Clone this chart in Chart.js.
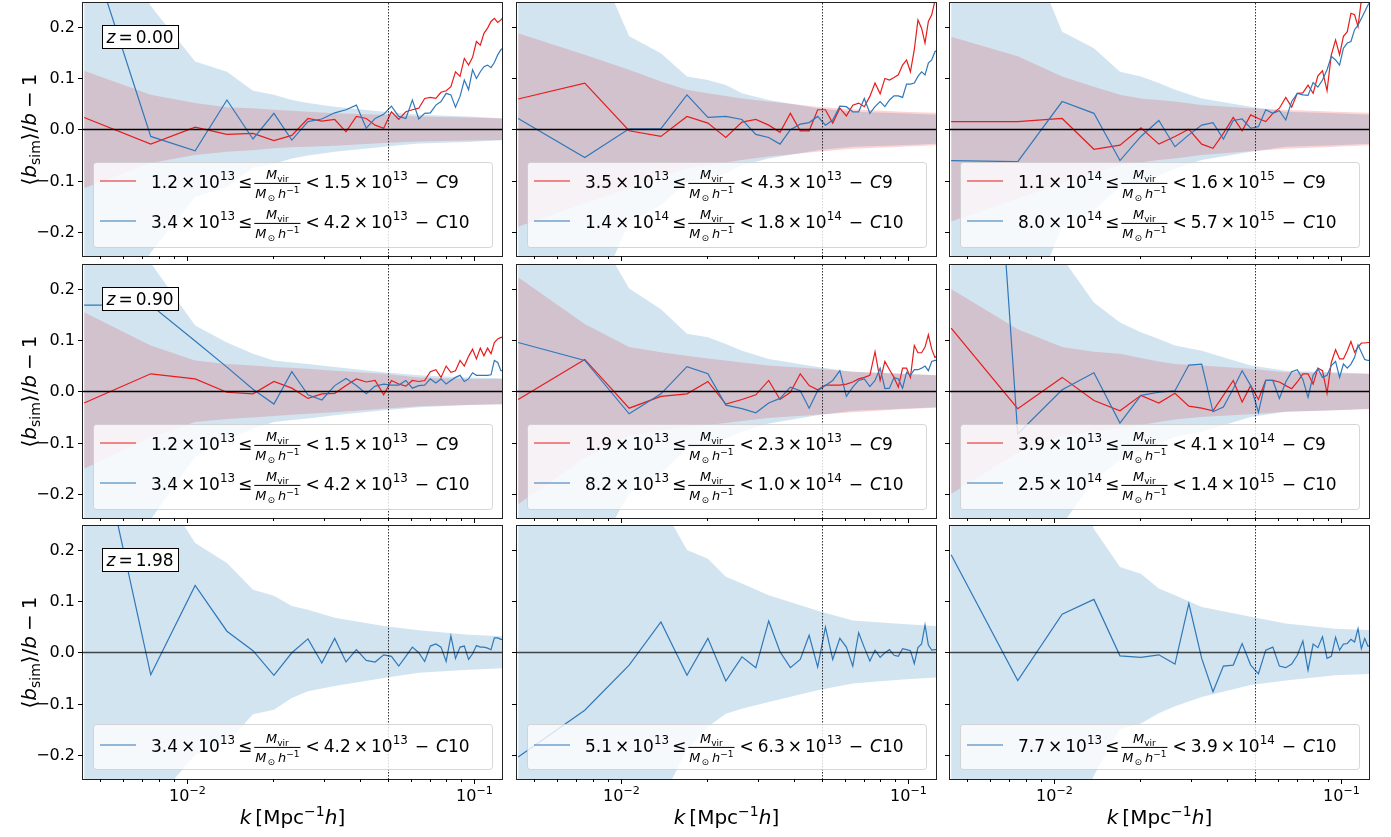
<!DOCTYPE html>
<html><head><meta charset="utf-8">
<script src="https://cdn.jsdelivr.net/npm/chart.js@4"></script>
<style>html,body{margin:0;padding:0;background:#fff;width:1391px;height:837px;overflow:hidden;position:relative}canvas{position:absolute}</style>
</head><body>
<script>
// k values (bin centres) and sparse k for error bands
const K = [0.0044,0.0075,0.0107,0.0138,0.0170,0.0201,0.0232,0.0264,0.0295,0.0327,0.0358,0.0389,0.0421,0.0452,0.0484,0.0515,0.0546,0.0578,0.0609,0.0641,0.0672,0.0703,0.0735,0.0766,0.0798,0.0829,0.0860,0.0892,0.0923,0.0955,0.0986,0.1017,0.1049,0.1080,0.1112,0.1143,0.1174,0.1206,0.1237,0.1269];
const BK = [0.0044,0.0075,0.0107,0.0138,0.0170,0.0201,0.0232,0.0264,0.0327,0.0484,0.0641,0.0955,0.1269];
const REDSHIFTS = ['0.00','0.90','1.98'];
const Y_TICKS = [-0.2,-0.1,0.0,0.1,0.2];

// series: C9 (red) and C10 (blue) per panel
const c9_00 = [0.023,-0.029,0.004,-0.010,-0.008,-0.022,-0.012,0.021,0.016,0.019,-0.005,0.025,0.021,0.008,0.002,0.034,0.019,0.034,0.038,0.041,0.060,0.062,0.060,0.072,0.075,0.083,0.112,0.103,0.138,0.125,0.140,0.171,0.164,0.187,0.197,0.210,0.216,0.208,0.213,0.22];
const c10_00 = [0.387,-0.014,-0.042,0.057,-0.019,0.031,-0.021,0.015,0.020,0.032,0.038,0.047,0.002,0.021,0.029,0.045,0.025,0.021,0.057,0.020,0.031,0.032,0.047,0.054,0.070,0.067,0.043,0.064,0.096,0.077,0.116,0.099,0.112,0.122,0.125,0.120,0.130,0.145,0.155,0.16];
const c9_01 = [0.059,0.090,-0.003,-0.014,0.025,0.012,-0.016,0.014,0.019,0.008,-0.006,0.031,-0.003,-0.003,0.038,0.038,0.012,0.041,0.026,0.047,0.051,0.044,0.064,0.090,0.069,0.099,0.096,0.101,0.106,0.125,0.135,0.112,0.155,0.213,0.197,0.168,0.210,0.223,0.25,0.28];
const c10_01 = [0.021,-0.055,0.001,0.001,0.067,0.023,0.025,0.019,-0.010,-0.016,-0.029,-0.001,0.010,0.013,0.025,0.008,0.018,0.045,0.044,0.034,0.034,0.060,0.031,0.044,0.054,0.044,0.057,0.065,0.065,0.062,0.088,0.088,0.090,0.103,0.112,0.106,0.129,0.135,0.151,0.155];
const c9_02 = [0.015,0.015,0.021,-0.039,-0.031,0.003,-0.029,-0.014,0.000,-0.029,-0.037,-0.008,0.023,-0.003,0.028,0.021,0.015,0.031,0.041,0.062,0.043,0.070,0.071,0.086,0.070,0.104,0.114,0.075,0.145,0.174,0.145,0.181,0.190,0.226,0.223,0.200,0.252,0.27,0.29,0.3];
const c10_02 = [-0.061,-0.063,0.054,0.031,-0.061,-0.014,0.017,-0.034,-0.011,0.008,0.013,-0.019,0.017,0.020,0.002,0.005,0.038,0.031,0.036,0.018,0.054,0.070,0.067,0.066,0.091,0.082,0.096,0.116,0.142,0.135,0.125,0.158,0.168,0.171,0.194,0.203,0.216,0.229,0.242,0.25];
const c9_10 = [-0.023,0.034,0.024,-0.002,-0.005,0.019,0.006,-0.014,-0.005,-0.004,0.011,0.024,0.018,0.021,-0.007,0.021,0.014,0.010,0.021,0.019,0.021,0.038,0.042,0.027,0.049,0.037,0.040,0.060,0.049,0.068,0.082,0.063,0.084,0.069,0.084,0.073,0.095,0.102,0.105,0.105];
const c10_10 = [0.168,0.168,0.098,0.047,0.004,-0.025,0.038,-0.007,-0.017,0.011,0.025,0.011,-0.005,0.010,0.014,0.012,0.012,0.021,0.006,0.011,0.012,0.024,0.016,0.024,0.014,0.021,0.027,0.031,0.019,0.024,0.036,0.031,0.031,0.031,0.031,0.032,0.060,0.056,0.040,0.04];
const c9_11 = [-0.016,0.062,-0.033,-0.010,-0.005,0.019,-0.025,-0.016,-0.007,0.021,-0.016,-0.002,0.034,0.011,0.003,0.012,0.012,0.012,0.014,0.018,0.024,0.027,0.031,0.077,0.021,0.058,0.042,0.027,0.008,0.045,0.045,0.027,0.089,0.075,0.075,0.086,0.110,0.082,0.066,0.07];
const c10_11 = [0.095,0.060,-0.044,-0.005,0.048,0.034,-0.027,-0.034,-0.042,-0.023,-0.014,0.008,0.001,-0.033,0.001,0.011,0.021,0.040,-0.010,0.008,0.021,0.024,0.009,0.021,0.045,0.005,0.006,0.027,0.024,0.006,0.037,0.031,0.042,0.042,0.045,0.049,0.040,0.058,0.060,0.06];
const c9_12 = [0.123,-0.034,0.027,-0.018,-0.038,-0.008,-0.023,-0.004,-0.029,-0.033,-0.038,-0.008,0.021,-0.021,0.011,-0.016,0.021,0.021,0.018,0.011,0.005,0.018,0.034,0.034,0.014,0.045,0.040,-0.004,0.056,0.081,0.063,0.063,0.079,0.097,0.076,0.086,0.094,0.094,0.095,0.095];
const c10_12 = [1.8,-0.083,0.003,0.036,-0.062,-0.008,-0.002,0.001,0.051,0.053,-0.040,-0.031,0.005,0.040,0.011,-0.041,0.021,0.021,-0.014,0.018,0.038,0.042,0.023,-0.012,0.031,0.044,0.027,0.031,0.050,0.058,0.027,0.053,0.045,0.053,0.066,0.090,0.076,0.062,0.060,0.06];
const c10_20 = [0.549,-0.044,0.130,0.041,0.003,-0.045,-0.001,0.026,-0.021,0.027,-0.019,0.005,-0.016,-0.019,-0.005,-0.008,-0.027,-0.008,0.010,-0.001,-0.018,0.012,0.016,0.010,-0.018,0.032,-0.012,0.010,0.012,-0.014,-0.003,0.013,0.010,0.010,0.008,0.005,0.028,0.028,0.025,0.025];
const c10_21 = [-0.204,-0.113,-0.025,0.059,-0.045,0.027,-0.056,-0.009,-0.030,0.061,0.001,-0.030,-0.014,0.033,-0.029,0.049,-0.014,0.027,0.010,-0.027,0.038,0.009,-0.017,0.004,-0.010,-0.001,0.005,-0.006,-0.008,0.007,0.005,0.003,-0.022,0.009,0.016,0.053,0.014,0.004,0.005,0.005];
const c10_22 = [0.190,-0.055,0.074,0.103,-0.007,-0.010,-0.005,-0.023,0.095,-0.012,-0.077,-0.027,-0.025,0.017,-0.025,-0.042,0.004,0.010,-0.027,-0.030,-0.023,-0.006,0.022,-0.035,0.016,0.009,0.030,-0.012,-0.008,0.029,0.004,0.016,0.017,0.025,0.020,0.046,0.007,0.027,0.012,0.012];

// error bands (upper / lower) at BK
const b10u_00=[0.5,0.24,0.132,0.112,0.075,0.067,0.057,0.051,0.044,0.034,0.028,0.025,0.021];
const b10l_00=[-0.5,-0.24,-0.132,-0.112,-0.075,-0.067,-0.057,-0.051,-0.044,-0.034,-0.028,-0.025,-0.021];
const b9u_00=[0.114,0.067,0.051,0.043,0.041,0.038,0.036,0.034,0.031,0.028,0.025,0.023,0.021];
const b9l_00=[-0.115,-0.066,-0.05,-0.044,-0.041,-0.037,-0.035,-0.034,-0.032,-0.027,-0.024,-0.022,-0.021];
const b10u_01=[0.6,0.38,0.181,0.148,0.103,0.096,0.086,0.07,0.057,0.041,0.034,0.031,0.028];
const b10l_01=[-0.6,-0.38,-0.181,-0.148,-0.103,-0.096,-0.086,-0.07,-0.057,-0.041,-0.034,-0.031,-0.028];
const b9u_01=[0.187,0.145,0.116,0.093,0.077,0.070,0.065,0.060,0.054,0.044,0.039,0.034,0.032];
const b9l_01=[-0.19,-0.144,-0.115,-0.092,-0.076,-0.07,-0.065,-0.06,-0.053,-0.044,-0.038,-0.034,-0.031];
const b10u_02=[0.6,0.4,0.19,0.158,0.112,0.103,0.09,0.077,0.06,0.044,0.034,0.031,0.028];
const b10l_02=[-0.6,-0.4,-0.19,-0.158,-0.112,-0.103,-0.09,-0.077,-0.06,-0.044,-0.034,-0.031,-0.028];
const b9u_02=[0.18,0.142,0.103,0.083,0.067,0.06,0.057,0.054,0.047,0.041,0.038,0.034,0.032];
const b9l_02=[-0.18,-0.135,-0.105,-0.085,-0.07,-0.065,-0.06,-0.057,-0.05,-0.043,-0.038,-0.034,-0.031];
const b10u_10=[0.3,0.25,0.128,0.095,0.073,0.06,0.056,0.053,0.047,0.037,0.031,0.027,0.025];
const b10l_10=[-0.3,-0.25,-0.128,-0.095,-0.073,-0.06,-0.056,-0.053,-0.047,-0.037,-0.031,-0.027,-0.025];
const b9u_10=[0.154,0.089,0.06,0.053,0.05,0.047,0.046,0.044,0.04,0.034,0.027,0.024,0.024];
const b9l_10=[-0.151,-0.09,-0.06,-0.054,-0.051,-0.048,-0.046,-0.044,-0.041,-0.034,-0.029,-0.027,-0.025];
const b10u_11=[0.6,0.35,0.2,0.16,0.112,0.105,0.092,0.079,0.063,0.047,0.038,0.034,0.031];
const b10l_11=[-0.6,-0.35,-0.2,-0.16,-0.112,-0.105,-0.092,-0.079,-0.063,-0.047,-0.038,-0.034,-0.031];
const b9u_11=[0.222,0.131,0.086,0.076,0.069,0.064,0.06,0.056,0.05,0.044,0.038,0.034,0.031];
const b9l_11=[-0.22,-0.13,-0.086,-0.076,-0.07,-0.066,-0.062,-0.058,-0.052,-0.046,-0.041,-0.035,-0.032];
const b10u_12=[0.6,0.4,0.26,0.173,0.134,0.115,0.102,0.089,0.079,0.05,0.04,0.037,0.034];
const b10l_12=[-0.6,-0.4,-0.26,-0.173,-0.134,-0.115,-0.102,-0.089,-0.079,-0.05,-0.04,-0.037,-0.034];
const b9u_12=[0.199,0.121,0.086,0.077,0.073,0.065,0.058,0.053,0.05,0.044,0.037,0.035,0.034];
const b9l_12=[-0.2,-0.12,-0.086,-0.078,-0.073,-0.066,-0.06,-0.055,-0.05,-0.045,-0.04,-0.037,-0.035];
const b10u_20=[0.6,0.35,0.213,0.174,0.122,0.11,0.09,0.083,0.067,0.051,0.043,0.034,0.031];
const b10l_20=[-0.6,-0.3,-0.2,-0.177,-0.121,-0.112,-0.089,-0.076,-0.066,-0.05,-0.04,-0.034,-0.031];
const b10u_21=[0.7,0.55,0.4,0.29,0.199,0.182,0.147,0.134,0.111,0.081,0.062,0.055,0.051];
const b10l_21=[-0.7,-0.55,-0.4,-0.29,-0.19,-0.145,-0.12,-0.11,-0.097,-0.074,-0.061,-0.053,-0.049];
const b10u_22=[0.7,0.55,0.4,0.24,0.166,0.153,0.124,0.111,0.088,0.069,0.056,0.046,0.043];
const b10l_22=[-0.7,-0.55,-0.4,-0.24,-0.15,-0.139,-0.119,-0.105,-0.087,-0.064,-0.055,-0.045,-0.042];

// legend labels: [low mantissa, low exp, high mantissa, high exp]
const lab9_00=['1.2','13','1.5','13'], lab10_00=['3.4','13','4.2','13'];
const lab9_01=['3.5','13','4.3','13'], lab10_01=['1.4','14','1.8','14'];
const lab9_02=['1.1','14','1.6','15'], lab10_02=['8.0','14','5.7','15'];
const lab9_10=['1.2','13','1.5','13'], lab10_10=['3.4','13','4.2','13'];
const lab9_11=['1.9','13','2.3','13'], lab10_11=['8.2','13','1.0','14'];
const lab9_12=['3.9','13','4.1','14'], lab10_12=['2.5','14','1.4','15'];
const lab10_20=['3.4','13','4.2','13'], lab10_21=['5.1','13','6.3','13'], lab10_22=['7.7','13','3.9','14'];

const PANELS = [
 {r:0,c:0,c9:c9_00,c10:c10_00,b9:[b9u_00,b9l_00],b10:[b10u_00,b10l_00],l9:lab9_00,l10:lab10_00},
 {r:0,c:1,c9:c9_01,c10:c10_01,b9:[b9u_01,b9l_01],b10:[b10u_01,b10l_01],l9:lab9_01,l10:lab10_01},
 {r:0,c:2,c9:c9_02,c10:c10_02,b9:[b9u_02,b9l_02],b10:[b10u_02,b10l_02],l9:lab9_02,l10:lab10_02},
 {r:1,c:0,c9:c9_10,c10:c10_10,b9:[b9u_10,b9l_10],b10:[b10u_10,b10l_10],l9:lab9_10,l10:lab10_10},
 {r:1,c:1,c9:c9_11,c10:c10_11,b9:[b9u_11,b9l_11],b10:[b10u_11,b10l_11],l9:lab9_11,l10:lab10_11},
 {r:1,c:2,c9:c9_12,c10:c10_12,b9:[b9u_12,b9l_12],b10:[b10u_12,b10l_12],l9:lab9_12,l10:lab10_12},
 {r:2,c:0,c10:c10_20,b10:[b10u_20,b10l_20],l10:lab10_20},
 {r:2,c:1,c10:c10_21,b10:[b10u_21,b10l_21],l10:lab10_21},
 {r:2,c:2,c10:c10_22,b10:[b10u_22,b10l_22],l10:lab10_22},
];

const COLX=[83,516.5,950], PW=419, ROWY=[3,265,526], PH=253;
const RED='rgb(232,28,28)', BLUE='rgb(47,120,186)';
const FONT='DejaVu Sans';
const FS=0.76;

function fnt(p,size){const s=(p.sup||p.sub)?size*0.7:size;return (p.it?'italic ':'')+s+'px "'+FONT+'"';}
function fracW(ctx,size){return Math.max(richW(ctx,FN,size*FS),richW(ctx,FD,size*FS))+4;}
const FN=[{t:'M',it:1},{t:'vir',sub:1}];
const FD=[{t:'M',it:1},{g:1},{t:'⊙',sub:1},{g:3},{t:'h',it:1},{t:'−1',sup:1}];
function richW(ctx,parts,size){let w=0;for(const p of parts){if(p.g!==undefined){w+=p.g;continue;}if(p.frac){w+=fracW(ctx,size);continue;}ctx.font=fnt(p,size);w+=ctx.measureText(p.t).width;}return w;}
function drawRich(ctx,parts,x,y,size,align){
  const w=richW(ctx,parts,size); if(align==='center')x-=w/2; else if(align==='right')x-=w;
  ctx.textBaseline='alphabetic';ctx.textAlign='left';
  for(const p of parts){
    if(p.g!==undefined){x+=p.g;continue;}
    if(p.frac){const fw=fracW(ctx,size);const s=size*FS;
      const nw=richW(ctx,FN,s), dw=richW(ctx,FD,s);
      drawRich(ctx,FN,x+(fw-nw)/2,y-size*0.5,s,'left');
      drawRich(ctx,FD,x+(fw-dw)/2,y+size*0.62,s,'left');
      ctx.fillRect(x+1,y-size*0.27,fw-2,1); x+=fw; continue;}
    ctx.font=fnt(p,size); let dy=0; if(p.sup)dy=-size*0.42; if(p.sub)dy=size*0.2;
    ctx.fillText(p.t,x,y+dy); x+=ctx.measureText(p.t).width;
  }
}
function legParts(l,cls){return [{t:l[0]},{g:3},{t:'×'},{g:3},{t:'10'},{t:l[1],sup:1},{g:3},{t:'≤'},{g:1},{frac:1},{g:4},{t:'<'},{g:4},{t:l[2]},{g:3},{t:'×'},{g:3},{t:'10'},{t:l[3],sup:1},{g:7},{t:'−'},{g:7},{t:'C',it:1},{t:cls}];}

function build(P){
  const ml=P.c===0?83:10, mr=6, mt=P.r===0?3:8, mb=P.r===2?837-779:8;
  const cv=document.createElement('canvas');
  const W=PW+ml+mr, H=PH+mt+mb;
  cv.width=W;cv.height=H;cv.style.left=(COLX[P.c]-ml)+'px';cv.style.top=(ROWY[P.r]-mt)+'px';
  cv.style.width=W+'px';cv.style.height=H+'px';
  document.body.appendChild(cv);
  const pts=(xs,ys)=>xs.map((x,i)=>({x:x,y:ys[i]}));
  const ds=[];
  ds.push({data:pts(K,P.c10),borderColor:BLUE,borderWidth:1.2,pointRadius:0,fill:false,tension:0});
  if(P.c9) ds.push({data:pts(K,P.c9),borderColor:RED,borderWidth:1.2,pointRadius:0,fill:false,tension:0});
  const bu=ds.length;
  ds.push({data:pts(BK,P.b10[0]),borderWidth:0,pointRadius:0,fill:false});
  ds.push({data:pts(BK,P.b10[1]),borderWidth:0,pointRadius:0,fill:{target:bu},backgroundColor:'rgba(31,119,180,0.2)'});
  if(P.b9){const ru=ds.length;
    ds.push({data:pts(BK,P.b9[0]),borderWidth:0,pointRadius:0,fill:false});
    ds.push({data:pts(BK,P.b9[1]),borderWidth:0,pointRadius:0,fill:{target:ru},backgroundColor:'rgba(255,0,0,0.17)'});}
  const deco={id:'deco',
    afterDatasetsDraw(ch){const ctx=ch.ctx,a=ch.chartArea,xs=ch.scales.x,ys=ch.scales.y;
      ctx.save();
      const y0=Math.round(ys.getPixelForValue(0))+0.5;
      ctx.strokeStyle=P.r===2?'rgba(0,0,0,0.7)':'#000';ctx.lineWidth=1.3;
      ctx.beginPath();ctx.moveTo(a.left,y0);ctx.lineTo(a.right,y0);ctx.stroke();
      const xv=Math.round(xs.getPixelForValue(0.05))+0.5;
      ctx.strokeStyle='rgba(0,0,0,0.8)';ctx.lineWidth=1;ctx.setLineDash([1.5,1.5]);
      ctx.beginPath();ctx.moveTo(xv,a.top);ctx.lineTo(xv,a.bottom);ctx.stroke();ctx.setLineDash([]);
      ctx.restore();},
    afterDraw(ch){const ctx=ch.ctx,a=ch.chartArea,xs=ch.scales.x,ys=ch.scales.y;
      ctx.save();
      const two=!!P.c9; const lt=two?a.bottom-94:a.bottom-55, lh=two?85:45;
      const lx=a.left+10, lw=a.right-a.left-20;
      ctx.fillStyle='rgba(255,255,255,0.8)';ctx.strokeStyle='rgba(204,204,204,0.8)';ctx.lineWidth=1;
      ctx.beginPath();ctx.roundRect(lx+0.5,lt+0.5,lw,lh,3);ctx.fill();ctx.stroke();
      const ents=two?[[RED,P.l9,'9'],[BLUE,P.l10,'10']]:[[BLUE,P.l10,'10']];
      ents.forEach((e,i)=>{const cy=lt+(two?19+40*i:21);
        ctx.strokeStyle=e[0];ctx.lineWidth=1.2;ctx.beginPath();ctx.moveTo(a.left+17,cy);ctx.lineTo(a.left+53,cy);ctx.stroke();
        ctx.fillStyle='#000';drawRich(ctx,legParts(e[1],e[2]),a.left+68,cy+6.5,17,'left');});
      if(P.c===0){ctx.fillStyle='#fff';ctx.fillRect(a.left+19,a.top+22,76,23);ctx.strokeStyle='#000';ctx.lineWidth=1;ctx.strokeRect(a.left+19.5,a.top+22.5,76,23);
        ctx.fillStyle='#000';drawRich(ctx,[{t:'z',it:1},{g:3},{t:'='},{g:3},{t:REDSHIFTS[P.r]}],a.left+57,a.top+40,17,'center');}
      ctx.strokeStyle='#222';ctx.lineWidth=1;ctx.strokeRect(Math.round(a.left)-0.5,Math.round(a.top)-0.5,Math.round(a.right-a.left)+1,Math.round(a.bottom-a.top)+1);
      ctx.fillStyle='#000';ctx.strokeStyle='#000';
      for(const v of Y_TICKS){const y=Math.round(ys.getPixelForValue(v))+0.5;
        ctx.beginPath();ctx.moveTo(a.left-5,y);ctx.lineTo(a.left,y);ctx.stroke();
        if(P.c===0){ctx.font='16px "'+FONT+'"';ctx.textAlign='right';ctx.textBaseline='middle';
          ctx.fillText((v<0?'−':'')+Math.abs(v).toFixed(1),a.left-8,y);}}
      for(let d=-3;d<=-1;d++)for(let m=1;m<10;m++){const v=m*Math.pow(10,d);
        if(v<xs.min||v>xs.max)continue;const x=Math.round(xs.getPixelForValue(v))+0.5;
        ctx.beginPath();ctx.moveTo(x,a.bottom);ctx.lineTo(x,a.bottom+(m===1?5:3));ctx.stroke();
        if(m===1&&P.r===2){drawRich(ctx,[{t:'10'},{t:'−'+(-d),sup:1}],x,a.bottom+22,16,'center');}}
      if(P.r===2){drawRich(ctx,[{t:'k',it:1},{g:4},{t:'[Mpc'},{t:'−1',sup:1},{t:'h',it:1},{t:']'}],(a.left+a.right)/2,a.bottom+45,20,'center');}
      if(P.c===0){ctx.save();ctx.translate(36,(a.top+a.bottom)/2);ctx.rotate(-Math.PI/2);
        drawRich(ctx,[{t:'⟨'},{t:'b',it:1},{t:'sim',sub:1},{t:'⟩/'},{t:'b',it:1},{g:5},{t:'−'},{g:5},{t:'1'}],0,0,20,'center');ctx.restore();}
      ctx.restore();}};
  new Chart(cv,{type:'line',data:{datasets:ds},
    options:{responsive:false,animation:false,devicePixelRatio:1,parsing:false,normalized:true,
      layout:{padding:{left:ml,right:mr,top:mt,bottom:mb}},
      plugins:{legend:{display:false},tooltip:{enabled:false}},
      scales:{x:{type:'logarithmic',min:0.00436,max:0.1248,display:false},y:{type:'linear',min:-0.247,max:0.246,display:false}}},
    plugins:[deco]});
}
PANELS.forEach(build);
</script>
</body></html>
